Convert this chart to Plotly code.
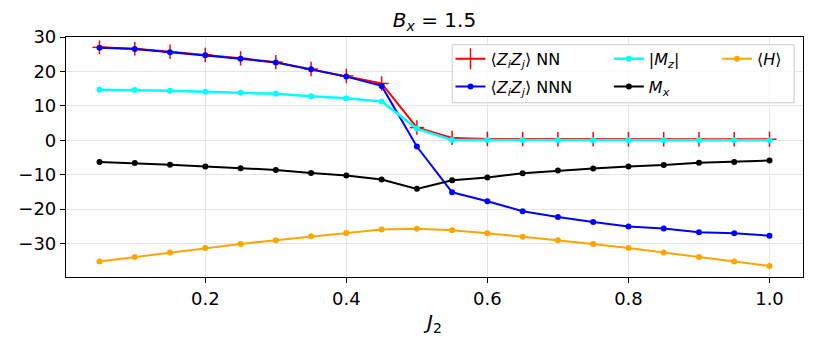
import plotly.graph_objects as go

# J2 sweep at Bx = 1.5
j2 = [0.05, 0.10, 0.15, 0.20, 0.25, 0.30, 0.35, 0.40, 0.45, 0.50,
      0.55, 0.60, 0.65, 0.70, 0.75, 0.80, 0.85, 0.90, 0.95, 1.00]

zz_nn = [27.0, 26.6, 25.7, 24.8, 23.8, 22.7, 20.7, 18.7, 16.5, 3.7,
         0.7, 0.4, 0.35, 0.3, 0.3, 0.3, 0.3, 0.3, 0.3, 0.3]
zz_nn_yerr = [2.0, 2.0, 2.1, 2.1, 2.1, 2.1, 2.1, 2.1, 2.1, 2.1,
              2.1, 2.1, 2.1, 2.1, 2.1, 2.1, 2.1, 2.1, 2.1, 2.2]
zz_nn_xerr = [0.01] * len(j2)

zz_nnn = [26.9, 26.5, 25.6, 24.7, 23.7, 22.6, 20.6, 18.5, 15.8, -1.8,
          -15.1, -17.7, -20.6, -22.3, -23.7, -25.0, -25.6, -26.7, -27.0, -27.7]

mz_abs = [14.7, 14.6, 14.4, 14.1, 13.8, 13.5, 12.8, 12.2, 11.3, 3.4,
          0.1, 0.1, 0.1, 0.05, 0.05, 0.05, 0.05, 0.05, 0.05, 0.05]

mx = [-6.3, -6.6, -7.1, -7.6, -8.1, -8.6, -9.5, -10.2, -11.4, -14.1,
      -11.6, -10.8, -9.6, -8.8, -8.2, -7.6, -7.2, -6.5, -6.3, -5.9]

energy = [-35.2, -33.9, -32.6, -31.3, -30.1, -29.0, -27.9, -26.9, -25.9, -25.7,
          -26.1, -27.0, -28.0, -29.0, -30.1, -31.3, -32.6, -33.9, -35.2, -36.5]

FONT = "DejaVu Sans"

fig = go.Figure()

# <Z_i Z_j> NN with error bars (legend entry added separately)
fig.add_trace(go.Scatter(
    x=j2, y=zz_nn, mode="lines", showlegend=False,
    line=dict(color="red", width=2),
    error_y=dict(type="data", array=zz_nn_yerr, color="red", thickness=1.5, width=0),
    error_x=dict(type="data", array=zz_nn_xerr, color="red", thickness=1.5, width=0),
))
fig.add_trace(go.Scatter(
    x=[None], y=[None], mode="lines+markers", name="⟨<i>Z<sub>i</sub>Z<sub>j</sub></i>⟩ NN",
    line=dict(color="red", width=2),
    marker=dict(symbol="line-ns", size=15, line=dict(color="red", width=1.5)),
    legend="legend", legendgroup="a",
))
fig.add_trace(go.Scatter(
    x=j2, y=zz_nnn, mode="lines+markers", name="⟨<i>Z<sub>i</sub>Z<sub>j</sub></i>⟩ NNN",
    line=dict(color="blue", width=2), marker=dict(color="blue", size=6),
    legend="legend", legendgroup="b",
))
fig.add_trace(go.Scatter(
    x=j2, y=mz_abs, mode="lines+markers", name="|<i>M<sub>z</sub></i>|",
    line=dict(color="cyan", width=2.5), marker=dict(color="cyan", size=6),
    legend="legend2", legendgroup="c",
))
fig.add_trace(go.Scatter(
    x=j2, y=mx, mode="lines+markers", name="<i>M<sub>x</sub></i>",
    line=dict(color="black", width=2), marker=dict(color="black", size=6),
    legend="legend2", legendgroup="d",
))
fig.add_trace(go.Scatter(
    x=j2, y=energy, mode="lines+markers", name="⟨<i>H</i>⟩",
    line=dict(color="orange", width=2), marker=dict(color="orange", size=6),
    legend="legend3", legendgroup="e",
))

leg_common = dict(
    orientation="v", xanchor="left", yanchor="top", y=0.98,
    bgcolor="rgba(0,0,0,0)", borderwidth=0, tracegroupgap=4,
    font=dict(family=FONT, size=16, color="black"), itemwidth=30,
)

# page body has an 8px margin, so the figure is a bit smaller than the window
fig.update_layout(
    width=806, height=338,
    margin=dict(l=54, r=10, t=29, b=69, pad=0),
    plot_bgcolor="white", paper_bgcolor="white",
    font=dict(family=FONT, size=18, color="black"),
    title=dict(text="<i>B<sub>x</sub></i> = 1.5", x=0.5, xref="paper",
               y=0.964, yref="container", yanchor="middle",
               font=dict(family=FONT, size=20, color="black")),
    legend=dict(x=0.5217, **leg_common),
    legend2=dict(x=0.7366, **leg_common),
    legend3=dict(x=0.8834, **leg_common),
    shapes=[dict(type="rect", xref="paper", yref="paper",
                 x0=0.524, x1=0.988, y0=0.726, y1=0.968,
                 line=dict(color="#cccccc", width=1),
                 fillcolor="rgba(255,255,255,0.8)", layer="above")],
)

fig.update_xaxes(
    range=[0.0025, 1.0475], tickvals=[0.2, 0.4, 0.6, 0.8, 1.0], tickformat=".1f",
    showgrid=True, gridcolor="#e5e5e5", gridwidth=1, zeroline=False,
    showline=True, linecolor="black", linewidth=1.2, mirror=True,
    ticks="outside", ticklen=5, tickcolor="black",
    tickfont=dict(family=FONT, size=18),
    title=dict(text="<i>J</i><sub>2</sub>", standoff=7, font=dict(family=FONT, size=20)),
)
fig.update_yaxes(
    range=[-39.7, 30.0], tickvals=[-30, -20, -10, 0, 10, 20, 30],
    showgrid=True, gridcolor="#e5e5e5", gridwidth=1, zeroline=False,
    showline=True, linecolor="black", linewidth=1.2, mirror=True,
    ticks="outside", ticklen=5, tickcolor="black",
    tickfont=dict(family=FONT, size=18),
)

fig.write_html("out.html")
